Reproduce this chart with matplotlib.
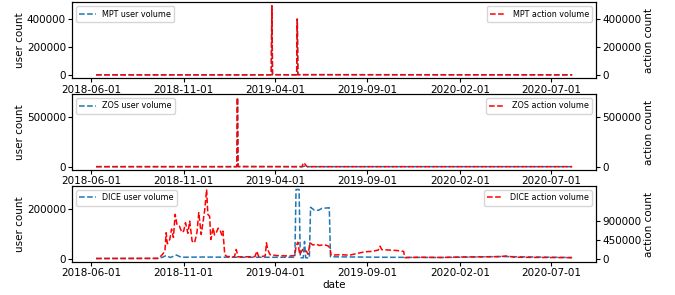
import pandas as pd
import matplotlib
matplotlib.use("Agg")
import matplotlib.pyplot as plt
import matplotlib.dates as mdates

# MPT: user and action volume are almost identical
mpt_dates = ["2018-06-09", "2019-03-25", "2019-03-26", "2019-03-27", "2019-03-28",
             "2019-05-06", "2019-05-07", "2019-05-08", "2019-05-09", "2020-08-05"]
mpt_users = [0, 0, 1000, 495000, 1000, 0, 1000, 400000, 1000, 0]
mpt_actions = [0, 0, 1000, 495000, 1000, 0, 1000, 400000, 1000, 0]

# ZOS
zos_dates = ["2018-06-09", "2019-01-27", "2019-01-28", "2019-01-29", "2019-01-30",
             "2019-05-16", "2019-05-18", "2019-05-21", "2019-05-23", "2019-05-25", "2020-08-05"]
zos_users = [0, 0, 1000, 690000, 1000, 0, 2000, 6000, 10000, 0, 0]
zos_actions = [0, 0, 1000, 690000, 1000, 0, 40000, 25000, 5000, 0, 0]

# DICE user volume
dice_user_dates = ["2018-06-09", "2018-09-19", "2018-09-27", "2018-10-03", "2018-10-10",
                   "2018-10-20", "2018-10-28", "2018-12-01", "2019-02-01", "2019-05-04",
                   "2019-05-06", "2019-05-11", "2019-05-13", "2019-05-18", "2019-05-20",
                   "2019-05-22", "2019-05-28", "2019-05-30", "2019-06-05", "2019-06-12",
                   "2019-06-18", "2019-06-30", "2019-07-02", "2019-10-01", "2020-01-01",
                   "2020-04-10", "2020-08-05"]
dice_users = [0, 0, 5000, 12000, 4000,
              14000, 5000, 6000, 5000, 5000,
              279000, 279000, 3000, 3000, 69000,
              3000, 2000, 207000, 196000, 195000,
              203000, 205000, 7000, 5000, 4000,
              8000, 4000]

# DICE action volume
dice_action_dates = ["2018-06-09", "2018-09-19", "2018-09-22", "2018-09-27", "2018-10-01",
                     "2018-10-03", "2018-10-05", "2018-10-09", "2018-10-12", "2018-10-15",
                     "2018-10-18", "2018-10-21", "2018-10-25", "2018-10-29", "2018-11-01",
                     "2018-11-04", "2018-11-08", "2018-11-11", "2018-11-15", "2018-11-19",
                     "2018-11-23", "2018-11-26", "2018-11-30", "2018-12-03", "2018-12-06",
                     "2018-12-09", "2018-12-11", "2018-12-14", "2018-12-16", "2018-12-20",
                     "2018-12-22", "2018-12-25", "2018-12-28", "2018-12-31", "2019-01-03",
                     "2019-01-05", "2019-01-08", "2019-01-11", "2019-01-24", "2019-01-27",
                     "2019-01-30", "2019-02-10", "2019-02-27", "2019-03-02", "2019-03-05",
                     "2019-03-10", "2019-03-16", "2019-03-18", "2019-03-20", "2019-03-24",
                     "2019-04-04", "2019-04-14", "2019-04-26", "2019-05-04", "2019-05-06",
                     "2019-05-09", "2019-05-12", "2019-05-17", "2019-05-23", "2019-05-26",
                     "2019-05-29", "2019-06-03", "2019-06-08", "2019-06-14", "2019-06-21",
                     "2019-06-28", "2019-07-01", "2019-07-03", "2019-07-18", "2019-08-03",
                     "2019-08-15", "2019-08-28", "2019-09-09", "2019-09-19", "2019-09-22",
                     "2019-09-25", "2019-10-09", "2019-10-20", "2019-10-31", "2019-11-02",
                     "2019-11-27", "2019-12-31", "2020-02-02", "2020-03-05", "2020-04-07",
                     "2020-04-18", "2020-05-02", "2020-06-12", "2020-08-05"]
dice_actions = [0, 5000, 20000, 100000, 174000,
                612000, 350000, 452000, 700000, 500000,
                1050000, 800000, 769000, 620000, 650000,
                850000, 600000, 888000, 412000, 373000,
                620000, 1090000, 571000, 860000, 1170000,
                1640000, 1050000, 1000000, 452000, 730000,
                560000, 612000, 720000, 690000, 560000,
                650000, 95000, 50000, 40000, 214000,
                40000, 40000, 45000, 174000, 50000,
                50000, 60000, 373000, 214000, 90000,
                70000, 65000, 60000, 70000, 293000,
                388000, 95000, 214000, 174000, 100000,
                373000, 320000, 340000, 310000, 330000,
                300000, 250000, 80000, 90000, 80000,
                120000, 160000, 170000, 200000, 293000,
                210000, 200000, 190000, 170000, 20000,
                30000, 25000, 35000, 40000, 45000,
                60000, 30000, 25000, 20000]

tick_dates = ["2018-06-01", "2018-11-01", "2019-04-01", "2019-09-01", "2020-02-01", "2020-07-01"]

panels = [
    ("MPT", mpt_dates, mpt_users, mpt_dates, mpt_actions, None),
    ("ZOS", zos_dates, zos_users, zos_dates, zos_actions, None),
    ("DICE", dice_user_dates, dice_users, dice_action_dates, dice_actions, [0, 450000, 900000]),
]

fs = 7.5
fig, axes = plt.subplots(3, 1, figsize=(6.75, 2.95), dpi=100)
fig.subplots_adjust(left=0.107, right=0.883, top=0.992, bottom=0.112, hspace=0.21)

for ax, (name, ud, uv, ad, av, rticks) in zip(axes, panels):
    ax.plot(pd.to_datetime(ud), uv, "--", color="tab:blue", lw=1.1, label=name + " user volume")
    ax.set_ylabel("user count", fontsize=fs, labelpad=1.5)
    ax.tick_params(labelsize=fs, length=3, pad=1.5)
    ax.legend(loc="upper left", fontsize=5.8, handlelength=2.0, borderpad=0.4)
    ax2 = ax.twinx()
    ax2.plot(pd.to_datetime(ad), av, "--", color="r", lw=1.1, label=name + " action volume")
    ax2.set_ylabel("action count", fontsize=fs, labelpad=2)
    ax2.tick_params(labelsize=fs, length=3, pad=1.5)
    ax2.legend(loc="upper right", fontsize=5.8, handlelength=2.0, borderpad=0.4)
    if rticks is not None:
        ax2.set_yticks(rticks)
    ax.set_xticks(pd.to_datetime(tick_dates))
    ax.xaxis.set_major_formatter(mdates.DateFormatter("%Y-%m-%d"))

axes[-1].set_xlabel("date", fontsize=fs, labelpad=1)

fig.savefig("out.png", dpi=100)
